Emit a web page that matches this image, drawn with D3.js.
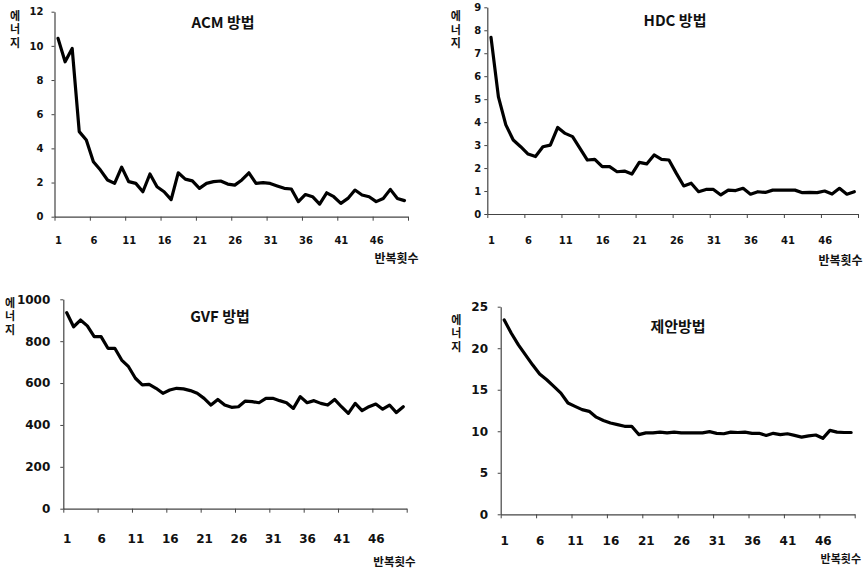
<!DOCTYPE html>
<html>
<head>
<meta charset="utf-8">
<script src="https://cdn.jsdelivr.net/npm/d3@7"></script>
<style>
  html, body { margin: 0; padding: 0; background: #fff; }
  svg { display: block; }
  .num { font-family: "DejaVu Sans", sans-serif; font-weight: bold; fill: #111; }
  .kor { font-family: "Noto Sans CJK KR", sans-serif; font-weight: bold; fill: #111; }
</style>
</head>
<body>
<svg id="chart" width="866" height="571"></svg>
<script>
// ---------------- DATA ----------------
const iterations = d3.range(1, 51);
const xTickLabels = [1, 6, 11, 16, 21, 26, 31, 36, 41, 46];

const acmValues = [10.44, 9.07, 9.85, 4.98, 4.49, 3.22, 2.73, 2.15, 1.95, 2.9,
  2.05, 1.95, 1.46, 2.5, 1.75, 1.46, 1.0, 2.57, 2.2, 2.1,
  1.66, 1.95, 2.05, 2.09, 1.91, 1.85, 2.15, 2.57, 1.95, 1.99,
  1.95, 1.8, 1.66, 1.62, 0.88, 1.3, 1.17, 0.74, 1.4, 1.17,
  0.78, 1.07, 1.56, 1.27, 1.17, 0.88, 1.07, 1.6, 1.07, 0.94];

const hdcValues = [7.69, 5.1, 3.88, 3.22, 2.93, 2.61, 2.5, 2.93, 3.0, 3.77,
  3.51, 3.37, 2.86, 2.35, 2.38, 2.06, 2.06, 1.84, 1.87, 1.74,
  2.25, 2.18, 2.57, 2.38, 2.35, 1.77, 1.22, 1.34, 0.97, 1.07,
  1.07, 0.83, 1.04, 1.02, 1.12, 0.86, 0.97, 0.94, 1.04, 1.04,
  1.04, 1.04, 0.93, 0.94, 0.93, 1.0, 0.87, 1.12, 0.86, 0.97];

const gvfValues = [936, 869, 901, 873, 822, 822, 766, 766, 710, 678,
  623, 591, 594, 575, 551, 567, 575, 572, 564, 551,
  527, 495, 522, 495, 484, 487, 514, 511, 506, 527,
  527, 516, 506, 479, 535, 506, 516, 503, 495, 522,
  487, 455, 503, 468, 487, 500, 475, 495, 459, 487];

const proposedValues = [23.4, 21.8, 20.4, 19.2, 18.0, 16.9, 16.2, 15.4, 14.6, 13.4,
  13.0, 12.6, 12.4, 11.7, 11.3, 11.0, 10.8, 10.6, 10.6, 9.6,
  9.8, 9.8, 9.9, 9.8, 9.9, 9.8, 9.8, 9.8, 9.8, 9.95,
  9.75, 9.7, 9.9, 9.85, 9.9, 9.75, 9.75, 9.5, 9.75, 9.6,
  9.7, 9.5, 9.3, 9.45, 9.55, 9.15, 10.1, 9.9, 9.85, 9.85];

const acmYTicks = [0, 2, 4, 6, 8, 10, 12];
const hdcYTicks = [0, 1, 2, 3, 4, 5, 6, 7, 8, 9];
const gvfYTicks = [0, 200, 400, 600, 800, 1000];
const proposedYTicks = [0, 5, 10, 15, 20, 25];

const panelTitles = ["ACM 방법", "HDC 방법", "GVF 방법", "제안방법"];
const yAxisTitle = "에너지";
const xAxisTitle = "반복횟수";

// ---------------- LAYOUT ----------------
const panels = [
  { values: acmValues, yTicks: acmYTicks, title: panelTitles[0],
    left: 54.5, right: 408, top: 11.7, bottom: 216.7, ymax: 12,
    yPad: 11, yFont: 10, xFont: 10, xLabelY: 244.5,
    titleX: 223, titleY: 28, xtX: 396.5, xtY: 262.5, xtFont: 12,
    ytX: 15, ytY: 10 },
  { values: hdcValues, yTicks: hdcYTicks, title: panelTitles[1],
    left: 487.3, right: 858, top: 7.3, bottom: 214, ymax: 9,
    yPad: 6, yFont: 10, xFont: 10, xLabelY: 243.8,
    titleX: 675, titleY: 25.5, xtX: 840.5, xtY: 264.5, xtFont: 12,
    ytX: 455.7, ytY: 10.5 },
  { values: gvfValues, yTicks: gvfYTicks, title: panelTitles[2],
    left: 63.3, right: 406.7, top: 299.3, bottom: 508.7, ymax: 1000,
    yPad: 13, yFont: 12, xFont: 12, xLabelY: 542.8,
    titleX: 220, titleY: 322, xtX: 394.5, xtY: 566, xtFont: 11.5,
    ytX: 10, ytY: 297 },
  { values: proposedValues, yTicks: proposedYTicks, title: panelTitles[3],
    left: 500.7, right: 854.7, top: 306.7, bottom: 514.3, ymax: 25,
    yPad: 12.7, yFont: 12, xFont: 12, xLabelY: 545.5,
    titleX: 678, titleY: 332, xtX: 840.8, xtY: 563, xtFont: 11,
    ytX: 456.3, ytY: 314 }
];

const svg = d3.select("#chart");
const axisColor = "#444";

panels.forEach(p => {
  const g = svg.append("g");
  const x = d3.scaleLinear().domain([0.5, 50.5]).range([p.left, p.right]);
  const y = d3.scaleLinear().domain([0, p.ymax]).range([p.bottom, p.top]);

  // y axis
  const yAxis = g.append("g")
    .attr("transform", `translate(${p.left},0)`)
    .call(d3.axisLeft(y).tickValues(p.yTicks).tickSize(3).tickPadding(p.yPad - 3)
      .tickSizeOuter(0).tickFormat(d3.format("d")));
  yAxis.select(".domain").attr("stroke", axisColor).attr("stroke-width", 1.2);
  yAxis.selectAll(".tick line").attr("stroke", axisColor);
  yAxis.selectAll(".tick text").attr("class", "num").style("font-size", p.yFont + "px")
    .attr("fill", "#111");

  // x axis: boundary tick marks
  const xTickMarks = g.append("g")
    .attr("transform", `translate(0,${p.bottom})`)
    .call(d3.axisBottom(x).tickValues(d3.range(0.5, 51, 5)).tickSize(4).tickFormat("").tickSizeOuter(0));
  xTickMarks.select(".domain").attr("stroke", axisColor).attr("stroke-width", 1.2);
  xTickMarks.selectAll(".tick line").attr("stroke", axisColor);

  // x axis: labels at category centers
  const xLabels = g.append("g")
    .attr("transform", `translate(0,${p.bottom})`)
    .call(d3.axisBottom(x).tickValues(xTickLabels).tickSize(0).tickPadding(0).tickFormat(d3.format("d")));
  xLabels.select(".domain").remove();
  xLabels.selectAll(".tick text").attr("class", "num").style("font-size", p.xFont + "px")
    .attr("fill", "#111")
    .attr("dy", null)
    .attr("y", p.xLabelY - p.bottom);

  // line
  const line = d3.line().x((d, i) => x(iterations[i])).y(d => y(d));
  g.append("path")
    .datum(p.values)
    .attr("d", line)
    .attr("fill", "none")
    .attr("stroke", "#000")
    .attr("stroke-width", 3.2)
    .attr("stroke-linejoin", "round")
    .attr("stroke-linecap", "round");

  // title
  g.append("text").attr("class", "kor")
    .attr("x", p.titleX).attr("y", p.titleY)
    .attr("text-anchor", "middle")
    .style("font-size", "15px")
    .text(p.title);

  // x-axis title
  g.append("text").attr("class", "kor")
    .attr("x", p.xtX).attr("y", p.xtY)
    .attr("text-anchor", "middle")
    .style("font-size", p.xtFont + "px")
    .text(xAxisTitle);

  // y-axis title (stacked vertically as one text)
  g.append("text").attr("class", "kor")
    .attr("x", p.ytX).attr("y", p.ytY)
    .attr("writing-mode", "vertical-rl")
    .attr("text-orientation", "upright")
    .style("font-size", "11px")
    .style("letter-spacing", "2.5px")
    .text(yAxisTitle);
});
</script>
</body>
</html>
